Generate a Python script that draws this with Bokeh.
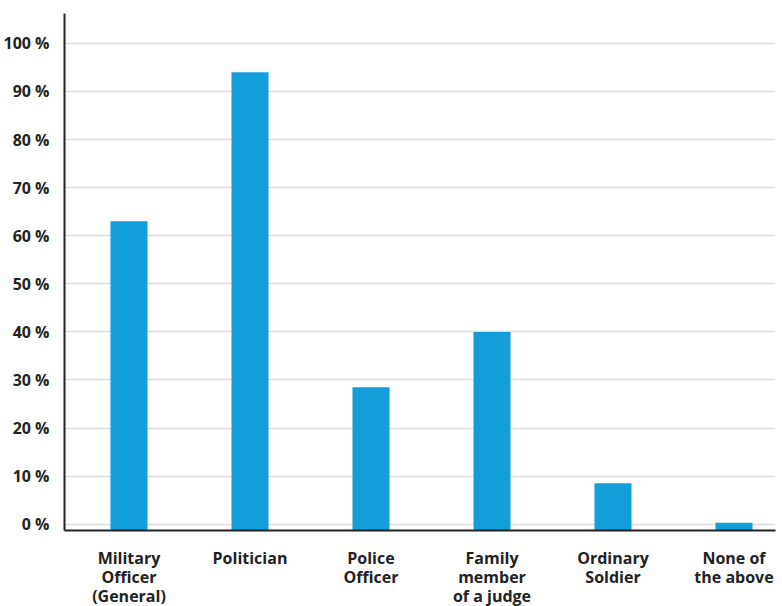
from bokeh.plotting import figure
from bokeh.models import Range1d, FixedTicker
from bokeh.embed import file_html
from bokeh.resources import INLINE

categories = ["Military\nOfficer\n(General)", "Politician", "Police\nOfficer",
              "Family\nmember\nof a judge", "Ordinary\nSoldier", "None of\nthe above"]
values = [63, 94, 28.5, 40, 8.5, 0.3]
y_ticks = [0, 10, 20, 30, 40, 50, 60, 70, 80, 90, 100]
y_labels = {t: f"{t} %" for t in y_ticks}

Y0 = -1.3
xs = list(range(len(categories)))

p = figure(frame_width=711, frame_height=517,
           output_backend="svg", toolbar_location=None,
           x_range=Range1d(-0.533, 5.343), y_range=Range1d(Y0, 106.2),
           min_border_left=57, min_border_right=6, min_border_top=13, min_border_bottom=0)
p.outline_line_color = None
p.background_fill_color = "white"

p.vbar(x=xs, top=values, bottom=Y0, width=0.306, color="#139ed9", line_color=None)

p.xaxis.ticker = FixedTicker(ticks=xs)
p.xaxis.major_label_overrides = {i: c for i, c in enumerate(categories)}
p.xaxis.major_tick_line_color = None
p.xaxis.minor_tick_line_color = None
p.xaxis.axis_line_color = "#222222"
p.xaxis.axis_line_width = 2
p.xaxis.major_label_text_font = "Open Sans"
p.xaxis.major_label_text_font_style = "bold"
p.xaxis.major_label_text_font_size = "16px"
p.xaxis.major_label_text_color = "#222222"
p.xaxis.major_label_standoff = 10
p.xaxis.major_label_text_line_height = 0.88

p.yaxis.ticker = FixedTicker(ticks=y_ticks)
p.yaxis.major_label_overrides = y_labels
p.yaxis.major_tick_line_color = None
p.yaxis.minor_tick_line_color = None
p.yaxis.axis_line_color = "#222222"
p.yaxis.axis_line_width = 2
p.yaxis.major_label_text_font = "Open Sans"
p.yaxis.major_label_text_font_style = "bold"
p.yaxis.major_label_text_font_size = "16px"
p.yaxis.major_label_text_color = "#222222"
p.yaxis.major_label_standoff = 9

p.xgrid.grid_line_color = None
p.ygrid.grid_line_color = "#dddddd"
p.ygrid.grid_line_width = 1.5

open("out.html", "w").write(file_html(p, INLINE))
